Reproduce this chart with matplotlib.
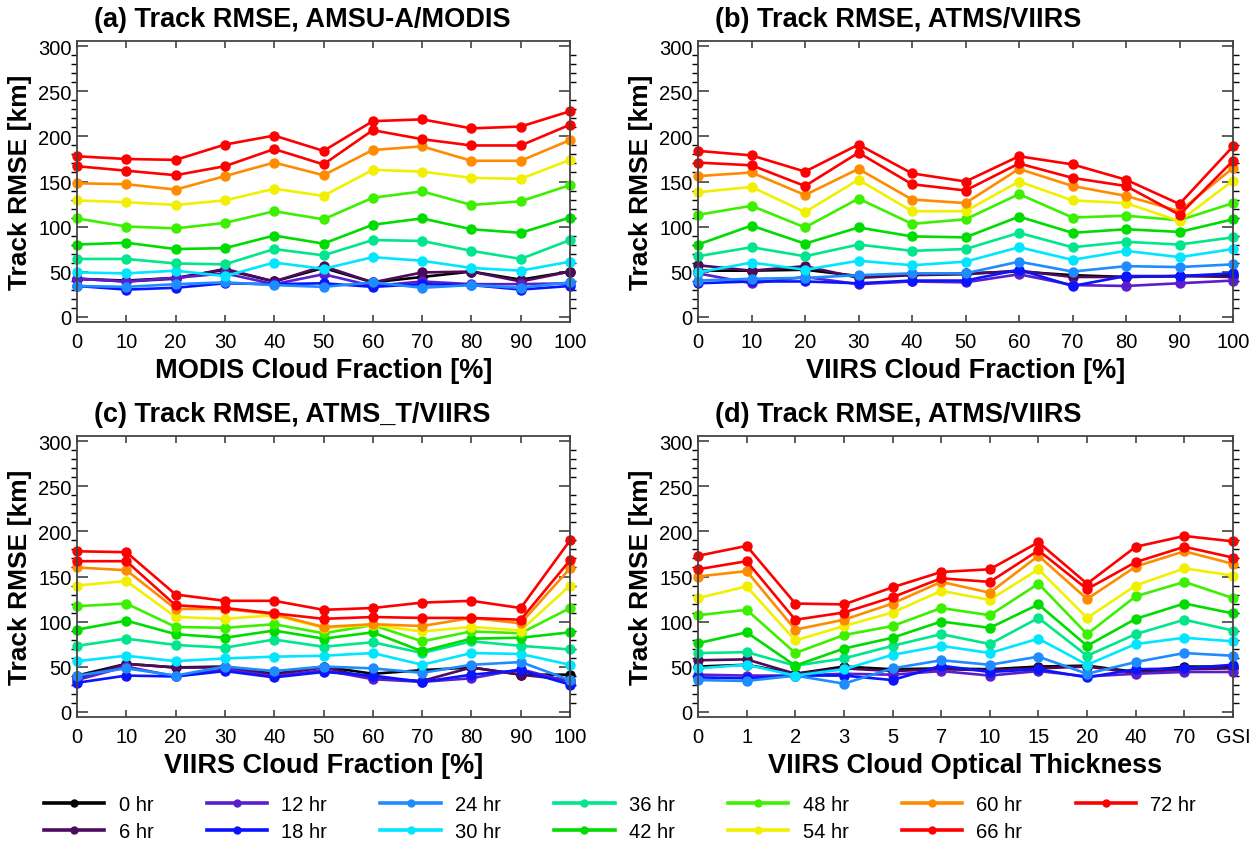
import matplotlib.pyplot as plt
from matplotlib.ticker import MultipleLocator
from matplotlib.lines import Line2D

plt.rcParams['font.family'] = ['Liberation Sans', 'DejaVu Sans']

hours = [0, 6, 12, 18, 24, 30, 36, 42, 48, 54, 60, 66, 72]
labels = ['%d hr' % h for h in hours]
colors = ['#000000', '#4e0a5c', '#5a1ecf', '#0a14ff', '#1e8cff', '#00e6ff', '#00e68c',
          '#00dc00', '#3cf000', '#f0f000', '#ff8c00', '#ff0000', '#ff0000']

# x values
x_frac = [0, 10, 20, 30, 40, 50, 60, 70, 80, 90, 100]
x_cot = ['0', '1', '2', '3', '5', '7', '10', '15', '20', '40', '70', 'GSI']

# (a) AMSU-A/MODIS, cloud fraction
a0 = [42, 40, 43, 52, 39, 54, 38, 44, 50, 41, 50]
a6 = [42, 39, 42, 53, 39, 56, 38, 49, 50, 39, 50]
a12 = [42, 39, 43, 48, 36, 47, 34, 39, 36, 36, 37]
a18 = [34, 30, 32, 37, 36, 37, 33, 36, 35, 30, 34]
a24 = [34, 33, 36, 38, 35, 33, 38, 32, 35, 32, 38]
a30 = [49, 48, 51, 45, 60, 53, 66, 62, 54, 51, 61]
a36 = [64, 64, 59, 58, 75, 68, 85, 84, 73, 64, 85]
a42 = [80, 82, 75, 76, 90, 81, 102, 109, 97, 93, 110]
a48 = [109, 100, 98, 104, 117, 108, 132, 139, 124, 128, 146]
a54 = [129, 127, 124, 129, 142, 134, 163, 161, 154, 153, 174]
a60 = [148, 147, 141, 156, 171, 157, 185, 189, 173, 173, 196]
a66 = [167, 162, 157, 167, 186, 169, 207, 197, 190, 190, 213]
a72 = [178, 175, 174, 191, 201, 184, 217, 219, 209, 211, 228]

# (b) ATMS/VIIRS, cloud fraction
b0 = [51, 51, 52, 45, 47, 48, 50, 46, 44, 45, 46]
b6 = [57, 51, 56, 43, 46, 47, 51, 44, 44, 45, 44]
b12 = [48, 37, 44, 36, 39, 38, 47, 35, 34, 37, 40]
b18 = [37, 39, 39, 37, 40, 40, 52, 34, 45, 45, 48]
b24 = [40, 42, 43, 46, 48, 48, 61, 50, 56, 55, 58]
b30 = [49, 60, 52, 62, 57, 61, 77, 63, 73, 66, 75]
b36 = [67, 77, 67, 80, 73, 75, 93, 77, 83, 80, 88]
b42 = [80, 101, 81, 99, 89, 88, 111, 93, 97, 94, 108]
b48 = [113, 123, 99, 131, 103, 108, 136, 110, 112, 107, 126]
b54 = [138, 144, 116, 152, 117, 117, 150, 129, 126, 106, 151]
b60 = [156, 160, 135, 164, 130, 126, 164, 145, 134, 117, 165]
b66 = [171, 168, 145, 182, 147, 140, 170, 154, 145, 113, 173]
b72 = [184, 179, 161, 191, 159, 150, 178, 169, 152, 125, 189]

# (c) ATMS_T/VIIRS, cloud fraction
c0 = [40, 53, 49, 50, 42, 50, 42, 46, 49, 41, 41]
c6 = [37, 53, 49, 49, 41, 49, 37, 34, 49, 41, 35]
c12 = [35, 50, 39, 47, 39, 46, 36, 33, 37, 47, 33]
c18 = [32, 40, 39, 45, 38, 44, 40, 33, 41, 46, 30]
c24 = [40, 48, 40, 50, 45, 50, 48, 43, 52, 55, 35]
c30 = [56, 62, 56, 59, 61, 62, 65, 52, 65, 64, 52]
c36 = [73, 81, 74, 71, 80, 72, 77, 65, 78, 73, 69]
c42 = [91, 101, 86, 82, 90, 81, 88, 67, 81, 82, 88]
c48 = [117, 120, 94, 93, 97, 87, 96, 78, 89, 87, 115]
c54 = [140, 145, 105, 103, 107, 93, 96, 89, 94, 90, 140]
c60 = [160, 157, 114, 114, 108, 94, 97, 95, 104, 98, 159]
c66 = [167, 167, 118, 115, 109, 103, 105, 104, 104, 102, 168]
c72 = [178, 177, 130, 123, 123, 113, 115, 121, 123, 115, 190]

# (d) ATMS/VIIRS, cloud optical thickness
d0 = [50, 52, 42, 50, 47, 48, 47, 50, 51, 44, 50, 50]
d6 = [57, 58, 42, 48, 45, 47, 46, 48, 50, 43, 47, 48]
d12 = [41, 40, 40, 42, 41, 45, 40, 45, 39, 42, 44, 44]
d18 = [38, 37, 40, 40, 35, 51, 44, 47, 38, 47, 48, 52]
d24 = [35, 34, 40, 31, 48, 57, 52, 61, 42, 55, 65, 62]
d30 = [48, 52, 40, 47, 63, 73, 65, 81, 52, 75, 82, 78]
d36 = [65, 66, 51, 59, 73, 86, 75, 104, 62, 86, 102, 90]
d42 = [76, 88, 51, 70, 82, 100, 93, 119, 73, 103, 120, 109]
d48 = [107, 113, 65, 85, 95, 115, 107, 142, 86, 128, 144, 126]
d54 = [126, 139, 79, 95, 110, 134, 124, 158, 104, 140, 159, 151]
d60 = [150, 156, 91, 102, 120, 144, 132, 173, 125, 161, 178, 164]
d66 = [158, 167, 102, 110, 127, 148, 144, 179, 136, 166, 183, 171]
d72 = [173, 184, 120, 119, 138, 155, 158, 188, 142, 183, 195, 189]

W, H = 1256, 853
fig = plt.figure(figsize=(W / 100, H / 100), dpi=100)


def panel(px, x, series, title, xlabel, xticklabels=None):
    l, t, r, b = px
    ax = fig.add_axes([l / W, 1 - b / H, (r - l) / W, (b - t) / H])
    for s, c in zip(series, colors):
        ax.plot(x, s, color=c, lw=1.9, marker='o', ms=6.5, mec=c, clip_on=False)
    ax.set_xlim(x[0], x[-1])
    ax.set_ylim(-6, 306)
    ax.set_xticks(x)
    if xticklabels is not None:
        ax.set_xticklabels(xticklabels)
    ax.set_yticks(range(0, 301, 50))
    ax.yaxis.set_minor_locator(MultipleLocator(10))
    ax.tick_params(direction='in', top=True, right=True, labelsize=14.5, width=1.1, colors='#333333',
                   labelcolor='black')
    ax.tick_params(axis='y', which='major', length=8, pad=4)
    ax.tick_params(axis='y', which='minor', length=4, width=1.0, right=True)
    ax.tick_params(axis='x', which='major', length=5, pad=7)
    for sp in ax.spines.values():
        sp.set_color('#444444')
        sp.set_linewidth(1.3)
    ax.set_ylabel('Track RMSE [km]', fontsize=19, fontweight='bold')
    ax.yaxis.set_label_coords(-45 / (r - l), 0.5)
    ax.set_xlabel(xlabel, fontsize=19.5, fontweight='bold')
    ax.xaxis.set_label_coords(0.5, -35 / (b - t))
    ax.annotate(title, xy=(0, 1), xycoords='axes fraction', xytext=(17, 9),
                textcoords='offset pixels', ha='left', va='bottom',
                fontsize=19.5, fontweight='bold')
    return ax


panel((77, 42, 570, 323), x_frac, [a0, a6, a12, a18, a24, a30, a36, a42, a48, a54, a60, a66, a72],
      '(a) Track RMSE, AMSU-A/MODIS', 'MODIS Cloud Fraction [%]')
panel((698, 42, 1233, 323), x_frac, [b0, b6, b12, b18, b24, b30, b36, b42, b48, b54, b60, b66, b72],
      '(b) Track RMSE, ATMS/VIIRS', 'VIIRS Cloud Fraction [%]')
panel((77, 437, 570, 718), x_frac, [c0, c6, c12, c18, c24, c30, c36, c42, c48, c54, c60, c66, c72],
      '(c) Track RMSE, ATMS_T/VIIRS', 'VIIRS Cloud Fraction [%]')
panel((698, 437, 1233, 718), list(range(len(x_cot))),
      [d0, d6, d12, d18, d24, d30, d36, d42, d48, d54, d60, d66, d72],
      '(d) Track RMSE, ATMS/VIIRS', 'VIIRS Cloud Optical Thickness', x_cot)

handles = [Line2D([], [], color=c, lw=2.6, marker='o', ms=5) for c in colors]
fig.legend(handles, labels, ncol=7, loc='upper left', bbox_to_anchor=(44 / W, 1 - 796 / H),
           frameon=False, fontsize=14.5, handlelength=3.0, handletextpad=0.7,
           columnspacing=2.65, labelspacing=0.4, borderpad=0, borderaxespad=0)

fig.savefig('out.png', dpi=100)
